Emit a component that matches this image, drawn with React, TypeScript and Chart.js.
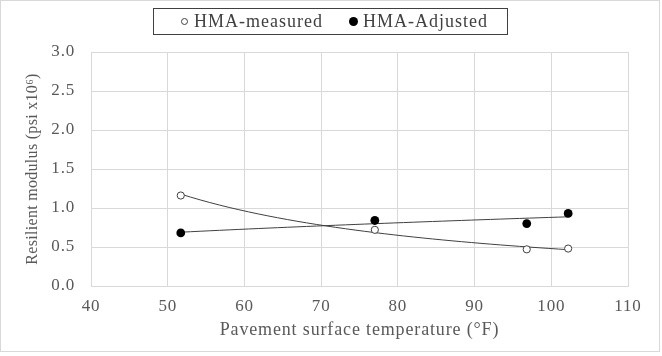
import React, { useEffect, useRef } from "react";
import { Chart, registerables } from "chart.js";

Chart.register(...registerables);

// Data
const tempMeasured = [51.7, 77.0, 96.8, 102.2];
const modMeasured = [1.16, 0.72, 0.47, 0.48];
const tempAdjusted = [51.7, 77.0, 96.8, 102.2];
const modAdjusted = [0.68, 0.84, 0.8, 0.93];

const xTicks = [40, 50, 60, 70, 80, 90, 100, 110];
const yTicks = [0, 0.5, 1.0, 1.5, 2.0, 2.5, 3.0];

const legendLabels = ["HMA-measured", "HMA-Adjusted"];
const xTitle = "Pavement surface temperature (°F)";
const yTitle = "Resilient modulus (psi x10⁶)";

// Power trendline (least squares on ln-ln), as a spreadsheet trendline does
function powerTrend(xs: number[], ys: number[], steps = 40) {
  const lx = xs.map(Math.log);
  const ly = ys.map(Math.log);
  const n = xs.length;
  const mx = lx.reduce((a, b) => a + b, 0) / n;
  const my = ly.reduce((a, b) => a + b, 0) / n;
  let sxy = 0, sxx = 0;
  for (let i = 0; i < n; i++) {
    sxy += (lx[i] - mx) * (ly[i] - my);
    sxx += (lx[i] - mx) * (lx[i] - mx);
  }
  const b = sxy / sxx;
  const a = Math.exp(my - b * mx);
  const x0 = Math.min(...xs);
  const x1 = Math.max(...xs);
  const pts: { x: number; y: number }[] = [];
  for (let i = 0; i <= steps; i++) {
    const x = x0 + ((x1 - x0) * i) / steps;
    pts.push({ x, y: a * Math.pow(x, b) });
  }
  return pts;
}

const FONT = "'Liberation Serif', 'Times New Roman', serif";
const TEXT = "#595959";
const GRID = "#d9d9d9";

export default function App() {
  const ref = useRef<HTMLCanvasElement | null>(null);

  useEffect(() => {
    if (!ref.current) return;
    const spacing: Record<string, { labels: string; title: string }> = {
      x: { labels: "0.8px", title: "0.85px" },
      y: { labels: "0.8px", title: "0.3px" },
    };
    const spacingPlugin = {
      id: "textSpacing",
      beforeDraw(chart: any) {
        Object.keys(chart.scales).forEach((id) => {
          const s = chart.scales[id];
          const sp = spacing[id];
          if (!sp || s.__patched) return;
          s.__patched = true;
          const origLabels = s.drawLabels;
          const origTitle = s.drawTitle;
          s.drawLabels = function (...args: any[]) {
            const ctx = this.ctx;
            ctx.save();
            (ctx as any).letterSpacing = sp.labels;
            origLabels.apply(this, args);
            ctx.restore();
          };
          s.drawTitle = function (...args: any[]) {
            const ctx = this.ctx;
            ctx.save();
            (ctx as any).letterSpacing = sp.title;
            origTitle.apply(this, args);
            ctx.restore();
          };
        });
      },
    };
    const borderPlugin = {
      id: "outerBorder",
      afterDraw(chart: any) {
        const ctx = chart.ctx;
        ctx.save();
        ctx.strokeStyle = GRID;
        ctx.lineWidth = 1;
        ctx.strokeRect(0.5, 0.5, 659, 351);
        ctx.restore();
      },
    };
    const chart = new Chart(ref.current, {
      type: "scatter",
      data: {
        datasets: [
          {
            label: legendLabels[0] + " trend",
            data: powerTrend(tempMeasured, modMeasured),
            showLine: true,
            borderColor: "#404040",
            borderWidth: 1,
            pointRadius: 0,
            order: 2,
          },
          {
            label: legendLabels[1] + " trend",
            data: powerTrend(tempAdjusted, modAdjusted),
            showLine: true,
            borderColor: "#404040",
            borderWidth: 1,
            pointRadius: 0,
            order: 2,
          },
          {
            label: legendLabels[0],
            data: tempMeasured.map((x, i) => ({ x, y: modMeasured[i] })),
            pointRadius: 3.6,
            pointBackgroundColor: "#ffffff",
            pointBorderColor: "#404040",
            pointBorderWidth: 1,
            showLine: false,
            order: 1,
          },
          {
            label: legendLabels[1],
            data: tempAdjusted.map((x, i) => ({ x, y: modAdjusted[i] })),
            pointRadius: 4.4,
            pointBackgroundColor: "#000000",
            pointBorderColor: "#000000",
            pointBorderWidth: 0,
            showLine: false,
            order: 1,
          },
        ],
      },
      options: {
        animation: false,
        responsive: false,
        maintainAspectRatio: false,
        layout: { padding: { top: 52, right: 34, left: 0, bottom: 0 } },
        plugins: { legend: { display: false }, tooltip: { enabled: false } },
        scales: {
          x: {
            type: "linear",
            min: 40,
            max: 110,
            afterBuildTicks: (s: any) => {
              s.ticks = xTicks.map((v) => ({ value: v }));
            },
            afterFit: (s: any) => {
              s.height = 70;
            },
            grid: { color: GRID, drawTicks: false },
            border: { color: GRID },
            ticks: {
              padding: 10,
              color: TEXT,
              font: { family: FONT, size: 17 },
              callback: (v: any) => String(v),
            },
            title: {
              display: true,
              text: xTitle,
              color: TEXT,
              font: { family: FONT, size: 18 },
              padding: { top: 0, bottom: 15 },
            },
          },
          y: {
            type: "linear",
            min: 0,
            max: 3,
            afterBuildTicks: (s: any) => {
              s.ticks = yTicks.map((v) => ({ value: v }));
            },
            afterFit: (s: any) => {
              s.width = 91;
            },
            grid: { color: GRID, drawTicks: false },
            border: { color: GRID },
            ticks: {
              padding: 16,
              color: TEXT,
              font: { family: FONT, size: 17 },
              callback: (v: any) => Number(v).toFixed(1),
            },
            title: {
              display: true,
              text: yTitle,
              color: TEXT,
              font: { family: FONT, size: 16 },
              padding: { top: 23, bottom: 0 },
            },
          },
        },
      },
      plugins: [spacingPlugin, borderPlugin],
    } as any);
    return () => chart.destroy();
  }, []);

  const marker = (filled: boolean): React.CSSProperties => ({
    display: "inline-block",
    width: filled ? 9 : 7,
    height: filled ? 9 : 7,
    borderRadius: "50%",
    boxSizing: "border-box",
    border: filled ? "none" : "1px solid #404040",
    background: filled ? "#000" : "#fff",
    marginRight: filled ? 5 : 6,
    verticalAlign: "middle",
    position: "relative",
    top: -1,
  });

  return (
    <div style={{ position: "fixed", left: 0, top: 0, width: 662, height: 356, background: "#fff" }}>
      <canvas ref={ref} width={662} height={356} style={{ display: "block", width: 662, height: 356 }} />
      <div
        style={{
          position: "absolute",
          left: 153,
          top: 8,
          width: 355,
          height: 27,
          boxSizing: "border-box",
          border: "1px solid #404040",
          display: "flex",
          alignItems: "center",
          justifyContent: "flex-start",
          paddingLeft: 27,
          fontFamily: FONT,
          fontSize: 18,
          letterSpacing: "1px",
          color: "#404040",
          whiteSpace: "nowrap",
        }}
      >
        <span style={{ marginRight: 26 }}>
          <span style={marker(false)} />
          {legendLabels[0]}
        </span>
        <span>
          <span style={marker(true)} />
          {legendLabels[1]}
        </span>
      </div>
    </div>
  );
}
